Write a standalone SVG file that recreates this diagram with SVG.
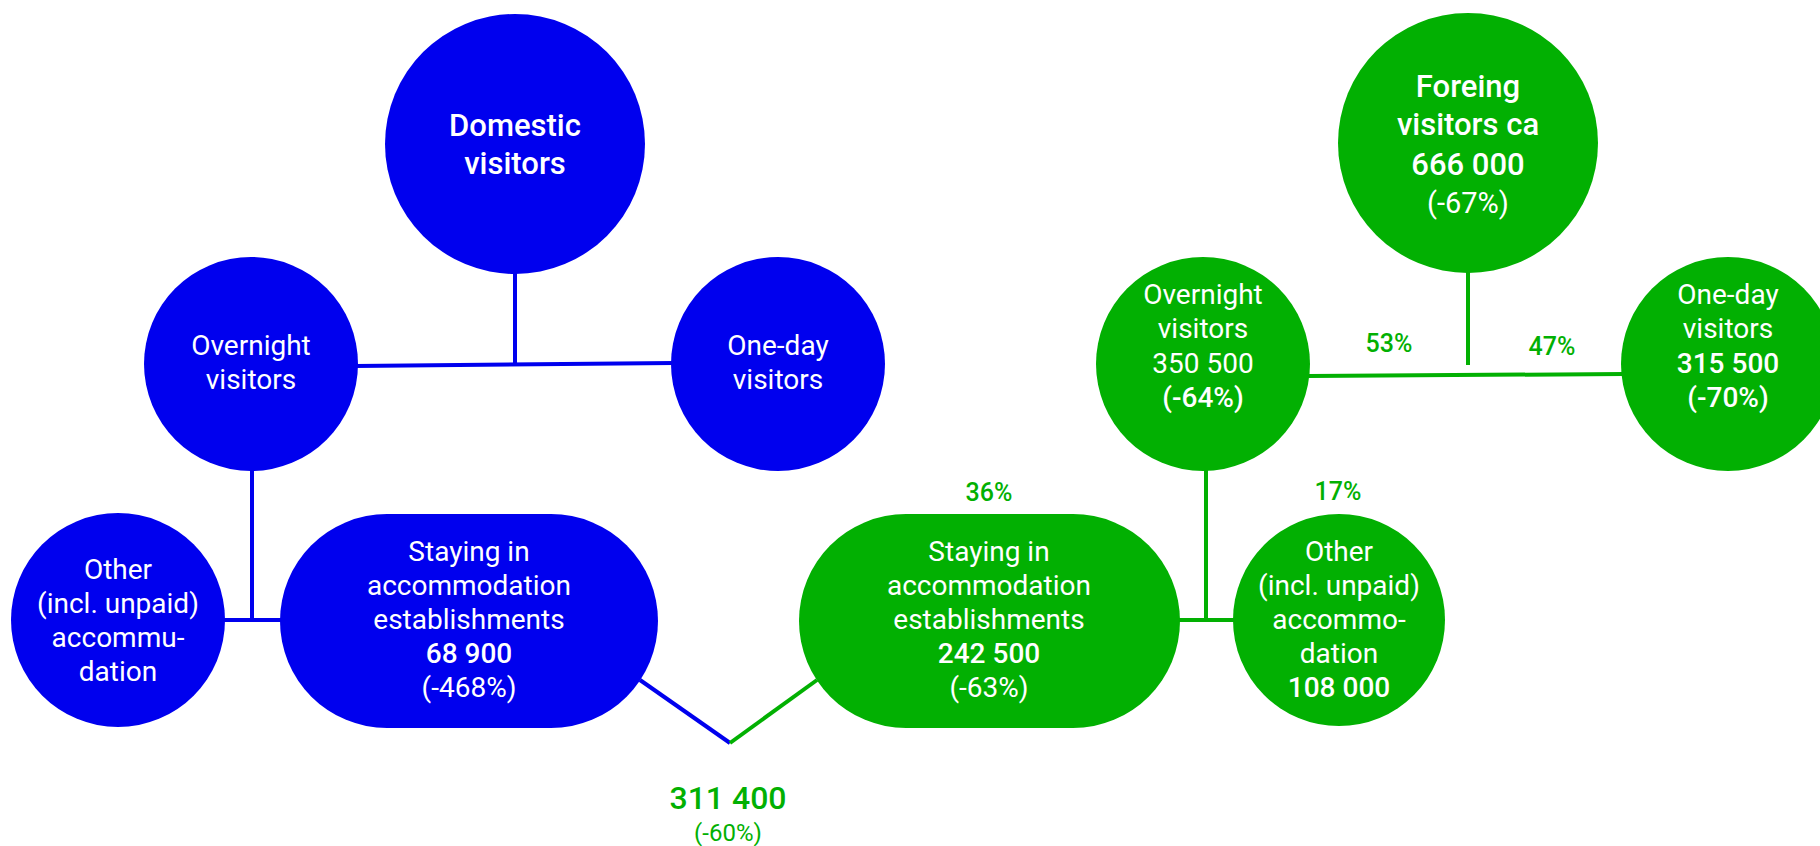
<svg xmlns="http://www.w3.org/2000/svg" width="1820" height="846" viewBox="0 0 1820 846">
<style>
.b{fill:#0000ee}
.g{fill:#02b002}
.t{font-family:Roboto,"Open Sans",sans-serif;font-size:28px;fill:#fff;text-anchor:middle}
.h{font-family:Roboto,"Open Sans",sans-serif;font-size:31px;font-weight:500;fill:#fff;text-anchor:middle}
.s{font-weight:500}
.p{font-family:Roboto,"Open Sans",sans-serif;font-size:25px;font-weight:500;fill:#02b002;text-anchor:middle}
.lb{stroke:#0000ee;stroke-width:4;fill:none}
.lg{stroke:#02b002;stroke-width:4;fill:none}
</style>
<rect width="1820" height="846" fill="#fff"/>
<g id="connectors">
<line class="lb" x1="515" y1="272" x2="515" y2="365"/>
<line class="lb" x1="355" y1="366" x2="674" y2="363"/>
<line class="lb" x1="252" y1="469" x2="252" y2="622"/>
<line class="lb" x1="223" y1="620" x2="282" y2="620"/>
<polyline class="lb" points="640,680 730,743"/>
<polyline class="lg" points="730,743 817,680"/>
<line class="lg" x1="1468" y1="271" x2="1468" y2="365"/>
<line class="lg" x1="1309" y1="376" x2="1624" y2="374"/>
<line class="lg" x1="1206" y1="469" x2="1206" y2="621"/>
<line class="lg" x1="1179" y1="620" x2="1235" y2="620"/>
</g>
<g id="domestic">
<circle class="b" cx="515" cy="144" r="130"/>
<text class="h" x="515" y="136">Domestic</text>
<text class="h" x="515" y="174">visitors</text>
</g>
<g id="dom-overnight">
<circle class="b" cx="251" cy="364" r="107"/>
<text class="t" x="251" y="355">Overnight</text>
<text class="t" x="251" y="389">visitors</text>
</g>
<g id="dom-oneday">
<circle class="b" cx="778" cy="364" r="107"/>
<text class="t" x="778" y="355">One-day</text>
<text class="t" x="778" y="389">visitors</text>
</g>
<g id="dom-other">
<circle class="b" cx="118" cy="620" r="107"/>
<text class="t" x="118" y="579">Other</text>
<text class="t" x="118" y="613">(incl. unpaid)</text>
<text class="t" x="118" y="647">accommu-</text>
<text class="t" x="118" y="681">dation</text>
</g>
<g id="dom-staying">
<rect class="b" x="280" y="514" width="378" height="214" rx="107"/>
<text class="t" x="469" y="561">Staying in</text>
<text class="t" x="469" y="595">accommodation</text>
<text class="t" x="469" y="629">establishments</text>
<text class="t s" x="469" y="663">68 900</text>
<text class="t" x="469" y="697">(-468%)</text>
</g>
<g id="total">
<text class="p" x="728" y="809" style="font-size:32px">311 400</text>
<text class="p" x="728" y="841" style="font-weight:400;font-size:24px">(-60%)</text>
</g>
<g id="foreign">
<circle class="g" cx="1468" cy="143" r="130"/>
<text class="h" x="1468" y="97">Foreing</text>
<text class="h" x="1468" y="135">visitors ca</text>
<text class="h" x="1468" y="175">666 000</text>
<text class="t" x="1468" y="213" style="font-size:29px">(-67%)</text>
</g>
<g id="for-overnight">
<circle class="g" cx="1203" cy="364" r="107"/>
<text class="t" x="1203" y="304">Overnight</text>
<text class="t" x="1203" y="338">visitors</text>
<text class="t" x="1203" y="373">350 500</text>
<text class="t s" x="1203" y="407">(-64%)</text>
</g>
<g id="for-oneday">
<circle class="g" cx="1728" cy="364" r="107"/>
<text class="t" x="1728" y="304">One-day</text>
<text class="t" x="1728" y="338">visitors</text>
<text class="t s" x="1728" y="373">315 500</text>
<text class="t s" x="1728" y="407">(-70%)</text>
</g>
<g id="for-staying">
<rect class="g" x="799" y="514" width="381" height="214" rx="107"/>
<text class="t" x="989" y="561">Staying in</text>
<text class="t" x="989" y="595">accommodation</text>
<text class="t" x="989" y="629">establishments</text>
<text class="t s" x="989" y="663">242 500</text>
<text class="t" x="989" y="697">(-63%)</text>
</g>
<g id="for-other">
<circle class="g" cx="1339" cy="620" r="106"/>
<text class="t" x="1339" y="561">Other</text>
<text class="t" x="1339" y="595">(incl. unpaid)</text>
<text class="t" x="1339" y="629">accommo-</text>
<text class="t" x="1339" y="663">dation</text>
<text class="t s" x="1339" y="697">108 000</text>
</g>
<g id="percentages">
<text class="p" x="989" y="501">36%</text>
<text class="p" x="1338" y="500">17%</text>
<text class="p" x="1389" y="352">53%</text>
<text class="p" x="1552" y="355">47%</text>
</g>
</svg>
